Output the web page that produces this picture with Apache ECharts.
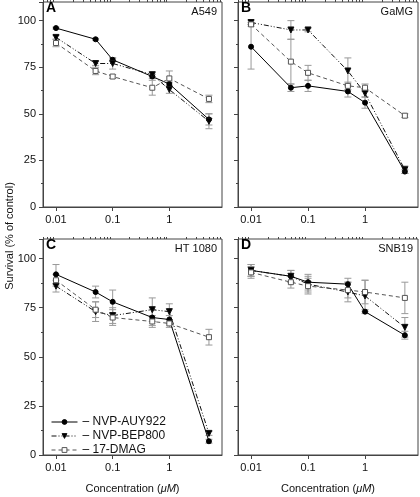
<!DOCTYPE html>
<html><head><meta charset="utf-8">
<script src="https://cdn.jsdelivr.net/npm/echarts@6/dist/echarts.min.js"></script>
<style>html,body{margin:0;padding:0;background:#fff}#c{width:420px;height:497px}</style>
</head><body><div id="c"></div>
<script>
// ---- data ----
var conc = [0.01, 0.05, 0.1, 0.5, 1, 5];
var seriesNames = ['NVP-AUY922', 'NVP-BEP800', '17-DMAG'];
var panelLetters = ['A', 'B', 'C', 'D'];
var cellLines = ['A549', 'GaMG', 'HT 1080', 'SNB19'];
var yTicks = [0, 25, 50, 75, 100];
var xLabels = [0.01, 0.1, 1];
var xMinor = [0.006, 0.007, 0.008, 0.009, 0.02, 0.03, 0.04, 0.05, 0.06, 0.07, 0.08, 0.09, 0.2, 0.3, 0.4, 0.5, 0.6, 0.7, 0.8, 0.9, 2, 3, 4, 5, 6, 7, 8];

// A549
var A_auy = [96, 90, 79, 70, 66, 47];
var A_auyErr = [0.5, 0.5, 1, 1, 1, 3];
var A_bep = [91, 77, 77, 71, 63, 46];
var A_bepErr = [1, 1, 3, 1, 2, 4];
var A_dmag = [88, 73, 70, 64, 69, 58];
var A_dmagErr = [2, 2, 1, 4, 4, 2];
// GaMG
var B_auy = [86, 64, 65, 62, 56, 19];
var B_auyErr = [12, 2, 3, 3, 3, 1];
var B_bep = [99, 95, 95, 73, 61, 20];
var B_bepErr = [1, 5, 1, 7, 2, 2];
var B_dmag = [98, 78, 72, 65, 64, 49];
var B_dmagErr = [1, 12, 4, 2, 2, 1];
// HT 1080
var C_auy = [92, 83, 78, 70, 69, 7];
var C_auyErr = [5, 3, 6, 4, 2, 1];
var C_bep = [86, 73, 71, 74, 73, 11];
var C_bepErr = [3, 5, 4, 6, 4, 1];
var C_dmag = [89, 74, 70, 68, 67, 60];
var C_dmagErr = [3, 4, 4, 3, 2, 4];
// SNB19
var D_auy = [94, 91, 88, 87, 73, 61];
var D_auyErr = [3, 3, 4, 3, 1, 2];
var D_bep = [94, 91, 87, 83, 81, 65];
var D_bepErr = [3, 3, 4, 5, 8, 5];
var D_dmag = [93, 88, 86, 84, 83, 80];
var D_dmagErr = [3, 3, 4, 4, 6, 8];

var panels = [
  [A_auy, A_bep, A_dmag, A_auyErr, A_bepErr, A_dmagErr],
  [B_auy, B_bep, B_dmag, B_auyErr, B_bepErr, B_dmagErr],
  [C_auy, C_bep, C_dmag, C_auyErr, C_bepErr, C_dmagErr],
  [D_auy, D_bep, D_dmag, D_auyErr, D_bepErr, D_dmagErr]
];

// ---- layout ----
var grids = [
  {left: 43, top: 2, width: 179, height: 205},
  {left: 238, top: 2, width: 180, height: 205},
  {left: 43, top: 239, width: 179, height: 216},
  {left: 238, top: 239, width: 180, height: 216}
];
var FONT = 'Liberation Sans, Arial, sans-serif';
var XMIN = 0.0059, XMAX = 8.5;

var styles = [
  {color: '#000', line: 'solid', symbol: 'circle', size: 5, rotate: 0, fill: '#000'},
  {color: '#111', line: [5, 2, 1, 2, 1, 2], symbol: 'triangle', size: 6, rotate: 180, fill: '#000'},
  {color: '#555', line: [4, 3], symbol: 'rect', size: 5, rotate: 0, fill: '#fff'}
];

var option = {
  animation: false,
  backgroundColor: '#fff',
  textStyle: {fontFamily: FONT},
  grid: grids.map(function (g) {
    return Object.assign({show: true, borderColor: '#444', borderWidth: 1, containLabel: false, backgroundColor: 'transparent'}, g);
  }),
  title: [],
  xAxis: [],
  yAxis: [],
  series: [],
  legend: {
    data: seriesNames, orient: 'vertical', left: 46, top: 410, itemGap: 0,
    itemWidth: 26, itemHeight: 6, formatter: '– {name}',
    itemStyle: {borderWidth: 1},
    lineStyle: {width: 1},
    textStyle: {fontSize: 12, color: '#111', fontFamily: FONT, lineHeight: 14}
  },
  graphic: [{
    type: 'text', x: 10, y: 236, rotation: Math.PI / 2,
    style: {text: 'Survival (% of control)', fill: '#111', font: '11px ' + FONT, align: 'center', verticalAlign: 'middle'}
  }]
};

panels.forEach(function (p, i) {
  var g = grids[i];
  option.title.push({text: panelLetters[i], left: g.left + 3, top: g.top - 1,
    textStyle: {fontSize: 14, fontWeight: 'bold', color: '#000', fontFamily: FONT}, padding: 0});
  option.title.push({text: cellLines[i], right: 420 - (g.left + g.width) + 5, top: g.top + 4,
    textStyle: {fontSize: 11, fontWeight: 'normal', color: '#111', fontFamily: FONT}, padding: 0});
  var bottom = i >= 2;
  option.xAxis.push({
    type: 'log', logBase: 10, gridIndex: i, min: XMIN, max: XMAX,
    axisLine: {show: true, lineStyle: {color: '#444', width: 1}},
    axisTick: {show: true, length: 4, customValues: xLabels, lineStyle: {color: '#444'}},
    axisLabel: {show: true, customValues: xLabels, fontSize: 11, color: '#111', margin: 7, fontFamily: FONT,
      formatter: function (v) { return String(+v.toPrecision(3)); }},
    splitLine: {show: false},
    name: bottom ? 'Concentration ({i|μM})' : '', nameLocation: 'middle', nameGap: 28,
    nameTextStyle: {fontSize: 11, color: '#111', fontFamily: FONT, rich: {i: {fontStyle: 'italic', fontSize: 11, fontFamily: FONT}}}
  });
  option.xAxis.push({
    type: 'log', logBase: 10, gridIndex: i, min: XMIN, max: XMAX,
    axisLine: {show: false},
    axisTick: {show: true, length: 2, customValues: xMinor, inside: false, lineStyle: {color: '#444'}},
    axisLabel: {show: false}, splitLine: {show: false}
  });
  option.yAxis.push({
    type: 'value', gridIndex: i, min: 0, max: 110, interval: 25,
    axisLine: {show: true, lineStyle: {color: '#444'}},
    axisTick: {show: true, length: 4, lineStyle: {color: '#444'}},
    minorTick: {show: true, splitNumber: 2, length: 2, lineStyle: {color: '#444'}},
    axisLabel: {show: i % 2 === 0, fontSize: 11, color: '#111', margin: 7, showMaxLabel: false, fontFamily: FONT,
      formatter: function (v) { return v > 100 ? '' : String(v); }},
    splitLine: {show: false}
  });
  for (var s = 0; s < 3; s++) {
    var st = styles[s];
    var vals = p[s], errs = p[s + 3];
    option.series.push({
      type: 'custom', name: 'err' + i + '_' + s, xAxisIndex: i * 2, yAxisIndex: i, z: 1,
      data: conc.map(function (c, k) { return [c, vals[k], errs[k]]; }),
      encode: {x: 0, y: 1},
      renderItem: function (params, api) {
        var x = api.value(0), y = api.value(1), e = api.value(2);
        var t = api.coord([x, y + e]), b = api.coord([x, y - e]);
        var w = 3.5, sty = {stroke: '#999', lineWidth: 1};
        return {type: 'group', children: [
          {type: 'line', shape: {x1: t[0], y1: t[1], x2: b[0], y2: b[1]}, style: sty},
          {type: 'line', shape: {x1: t[0] - w, y1: t[1], x2: t[0] + w, y2: t[1]}, style: sty},
          {type: 'line', shape: {x1: b[0] - w, y1: b[1], x2: b[0] + w, y2: b[1]}, style: sty}
        ]};
      }
    });
    option.series.push({
      type: 'line', name: seriesNames[s], xAxisIndex: i * 2, yAxisIndex: i, z: 3 + s,
      data: conc.map(function (c, k) { return [c, vals[k]]; }),
      symbol: st.symbol, symbolSize: st.size, symbolRotate: st.rotate, showAllSymbol: true,
      lineStyle: {color: st.color, width: 1, type: st.line},
      itemStyle: {color: st.fill, borderColor: st.color, borderWidth: 1}
    });
  }
});

var chart = echarts.init(document.getElementById('c'), null, {renderer: 'canvas'});
chart.setOption(option);
</script>
</body></html>
